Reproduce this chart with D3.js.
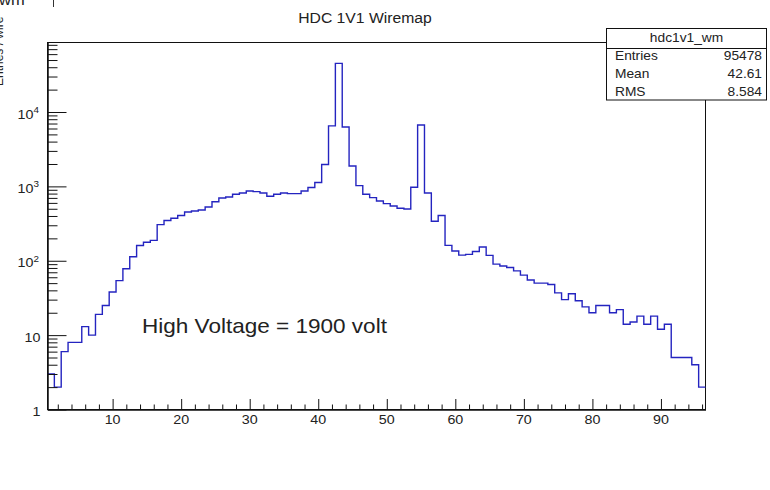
<!DOCTYPE html>
<html>
<head>
<meta charset="utf-8">
<script src="https://cdn.jsdelivr.net/npm/d3@7"></script>
<style>
  body { margin: 0; background: #fff; }
  text { font-family: "Liberation Sans", Arial, Helvetica, sans-serif; fill: #222; }
</style>
</head>
<body>
<div id="chart"></div>
<script>
// wire number 1..96, one count per wire
const wires = d3.range(1, 97)
const counts = [
  3, 2, 6, 8, 8, 13, 10, 19, 25, 38,
  54, 78, 113, 160, 177, 188, 306, 347, 372, 405,
  452, 466, 481, 528, 620, 698, 720, 783, 815, 867,
  851, 815, 736, 783, 815, 800, 800, 867, 964, 1125,
  1965, 6500, 45000, 6300, 1883, 1025, 783, 707, 636, 587,
  545, 507, 496, 972, 6700, 815, 339, 406, 161, 135,
  119, 122, 133, 153, 118, 90, 85, 81, 73, 64,
  55, 50, 50, 48, 37, 30, 36, 29, 24, 20,
  25, 25, 20, 22, 14, 15, 18, 14, 18, 12,
  14, 5, 5, 5, 4, 2
]
const xTicks = [10, 20, 30, 40, 50, 60, 70, 80, 90]
const yTicks = [1, 10, 100, 1000, 10000]
const yTickLabels = [['1', ''], ['10', ''], ['10', '2'], ['10', '3'], ['10', '4']]
const statNames = ['Entries', 'Mean', 'RMS']
const statValues = ['95478', '42.61', '8.584']

const W = 770, H = 490
const padL = 47.5, padR = 705.5, padT = 42.5, padB = 409.5

const svg = d3.select('#chart').append('svg')
  .attr('width', W)
  .attr('height', H)

svg.append('rect').attr('width', W).attr('height', H).attr('fill', 'white')

const x = d3.scaleLinear().domain([0.5, 96.5]).range([padL, padR])
const y = d3.scaleLog().domain([1, 86000]).range([padB, padT])

// text is a bit wide in the original, stretch it horizontally
function txt(g, px, py, s, size, anchor) {
  return g.append('text')
    .attr('transform', 'translate(' + px + ',' + py + ') scale(1.1,1)')
    .attr('font-size', size)
    .attr('text-anchor', anchor || 'start')
    .text(s)
}

// leftovers of the neighbouring pad
txt(svg, -1, 5, 'wm', 15)
svg.append('line').attr('x1', 53.5).attr('x2', 53.5).attr('y1', 0).attr('y2', 7)
  .attr('stroke', '#333')
svg.append('text')
  .attr('transform', 'translate(3,86) rotate(-90)')
  .attr('font-size', 12)
  .text('Entries / wire')

// frame
svg.append('rect')
  .attr('x', padL).attr('y', padT)
  .attr('width', padR - padL).attr('height', padB - padT)
  .attr('fill', 'none').attr('stroke', '#111').attr('stroke-width', 1)

// histogram outline
const pts = []
wires.forEach(function (w, i) {
  pts.push([w - 0.5, counts[i]])
  pts.push([w + 0.5, counts[i]])
})
const line = d3.line()
  .x(d => x(d[0]))
  .y(d => y(d[1]))
svg.append('path')
  .attr('d', line(pts))
  .attr('fill', 'none')
  .attr('stroke', '#2424c0')
  .attr('stroke-width', 1.4)

// x axis, ticks point inwards
const xMinor = d3.range(2, 97, 2).filter(v => v % 10 !== 0)
svg.append('g')
  .attr('transform', 'translate(0,' + padB + ')')
  .call(d3.axisBottom(x).tickValues(xMinor).tickSize(-5).tickSizeOuter(0).tickFormat(''))
svg.append('g')
  .attr('transform', 'translate(0,' + padB + ')')
  .call(d3.axisBottom(x).tickValues(xTicks).tickSize(-10.5).tickSizeOuter(0).tickFormat(''))
svg.selectAll('.domain').attr('stroke', '#111')
svg.selectAll('.tick line').attr('stroke', '#111')

xTicks.forEach(function (v) {
  txt(svg, x(v), 424, String(v), 13, 'middle')
})

// y axis, log
const yMinor = []
yTicks.forEach(function (d) {
  for (let k = 2; k < 10; k++) {
    if (d * k <= 86000) yMinor.push(d * k)
  }
})
const ya = svg.append('g').attr('transform', 'translate(' + padL + ',0)')
ya.append('g').call(d3.axisLeft(y).tickValues(yMinor).tickSize(-10).tickSizeOuter(0).tickFormat(''))
ya.append('g').call(d3.axisLeft(y).tickValues(yTicks).tickSize(-19).tickSizeOuter(0).tickFormat(''))
ya.selectAll('.domain').attr('stroke', '#111')
ya.selectAll('.tick line').attr('stroke', '#111')

yTicks.forEach(function (v, i) {
  const lab = yTickLabels[i]
  const t = svg.append('text')
    .attr('transform', 'translate(' + (lab[1] ? 39 : 40.5) + ',' + (y(v) + 6.5) + ') scale(1.1,1)')
    .attr('font-size', 13)
    .attr('text-anchor', 'end')
  t.append('tspan').text(lab[0])
  if (lab[1]) {
    t.append('tspan').attr('dy', -5.5).attr('font-size', 9).text(lab[1])
  }
})

// title
txt(svg, 365, 23, 'HDC 1V1 Wiremap', 14.3, 'middle')

// note
txt(svg, 142, 332.5, 'High Voltage = 1900 volt', 20.5)

// stats box
const sb = svg.append('g')
sb.append('rect')
  .attr('x', 606.5).attr('y', 28.5)
  .attr('width', 160).attr('height', 71.5)
  .attr('fill', 'white').attr('stroke', '#111')
sb.append('line')
  .attr('x1', 606.5).attr('x2', 766.5)
  .attr('y1', 48.5).attr('y2', 48.5)
  .attr('stroke', '#111')
txt(sb, 686.5, 42, 'hdc1v1_wm', 12.5, 'middle')
statNames.forEach(function (s, i) {
  txt(sb, 615, 60 + i * 18, s, 12.5)
  txt(sb, 762, 60 + i * 18, statValues[i], 12.5, 'end')
})
</script>
</body>
</html>
